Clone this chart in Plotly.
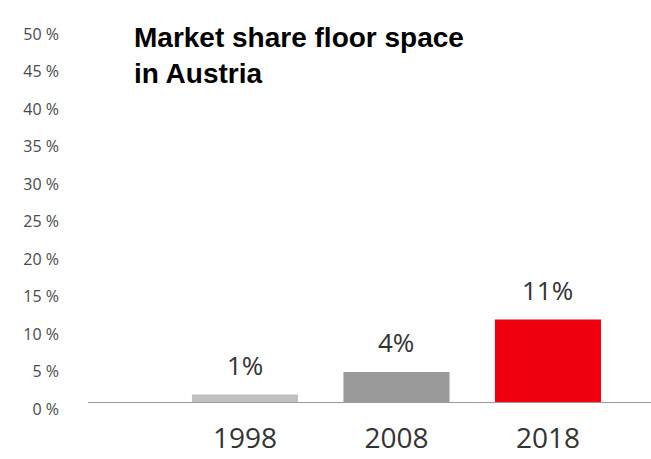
import plotly.graph_objects as go

years = ["1998", "2008", "2018"]
shares = [1, 4, 11]
value_labels = ["1%", "4%", "11%"]
bar_colors = ["#c0c0c0", "#9a9a9a", "#f0000e"]
ytick_vals = [0, 5, 10, 15, 20, 25, 30, 35, 40, 45, 50]
ytick_text = [f"{v} %" for v in ytick_vals]
title_text = "<b>Market share floor space<br>in Austria</b>"

xpos = list(range(len(years)))

fig = go.Figure()
fig.add_trace(go.Bar(
    x=xpos, y=shares, width=0.7,
    marker=dict(color=bar_colors, line=dict(width=0)),
    hoverinfo="skip",
))

for xi, v, t in zip(xpos, shares, value_labels):
    fig.add_annotation(
        x=xi, y=v, xref="x", yref="y", text=t, showarrow=False,
        yanchor="bottom", yshift=10,
        font=dict(family="Open Sans", size=26, color="#333333"),
    )

fig.add_annotation(
    x=0.078, y=1.02, xref="paper", yref="paper", text=title_text,
    showarrow=False, xanchor="left", yanchor="top", align="left",
    font=dict(family="Liberation Sans, Arial", size=28, color="#000000"),
)

fig.update_layout(
    width=651, height=459,
    margin=dict(l=88, r=0, t=27, b=57),
    paper_bgcolor="white", plot_bgcolor="white",
    showlegend=False,
)
fig.update_xaxes(
    range=[-1.036, 2.68],
    tickmode="array", tickvals=xpos, ticktext=years,
    showgrid=False, zeroline=False,
    showline=True, linecolor="#9a9a9a", linewidth=1,
    ticks="", ticklabelstandoff=11,
    tickfont=dict(family="Open Sans", size=28, color="#333333"),
)
fig.update_yaxes(
    range=[0, 50],
    tickmode="array", tickvals=ytick_vals, ticktext=ytick_text,
    showgrid=False, zeroline=False, showline=False,
    ticks="", ticklabelstandoff=28, ticklabelshift=7,
    tickfont=dict(family="Open Sans", size=16, color="#4a4a4a"),
)

fig.write_html("out.html")
